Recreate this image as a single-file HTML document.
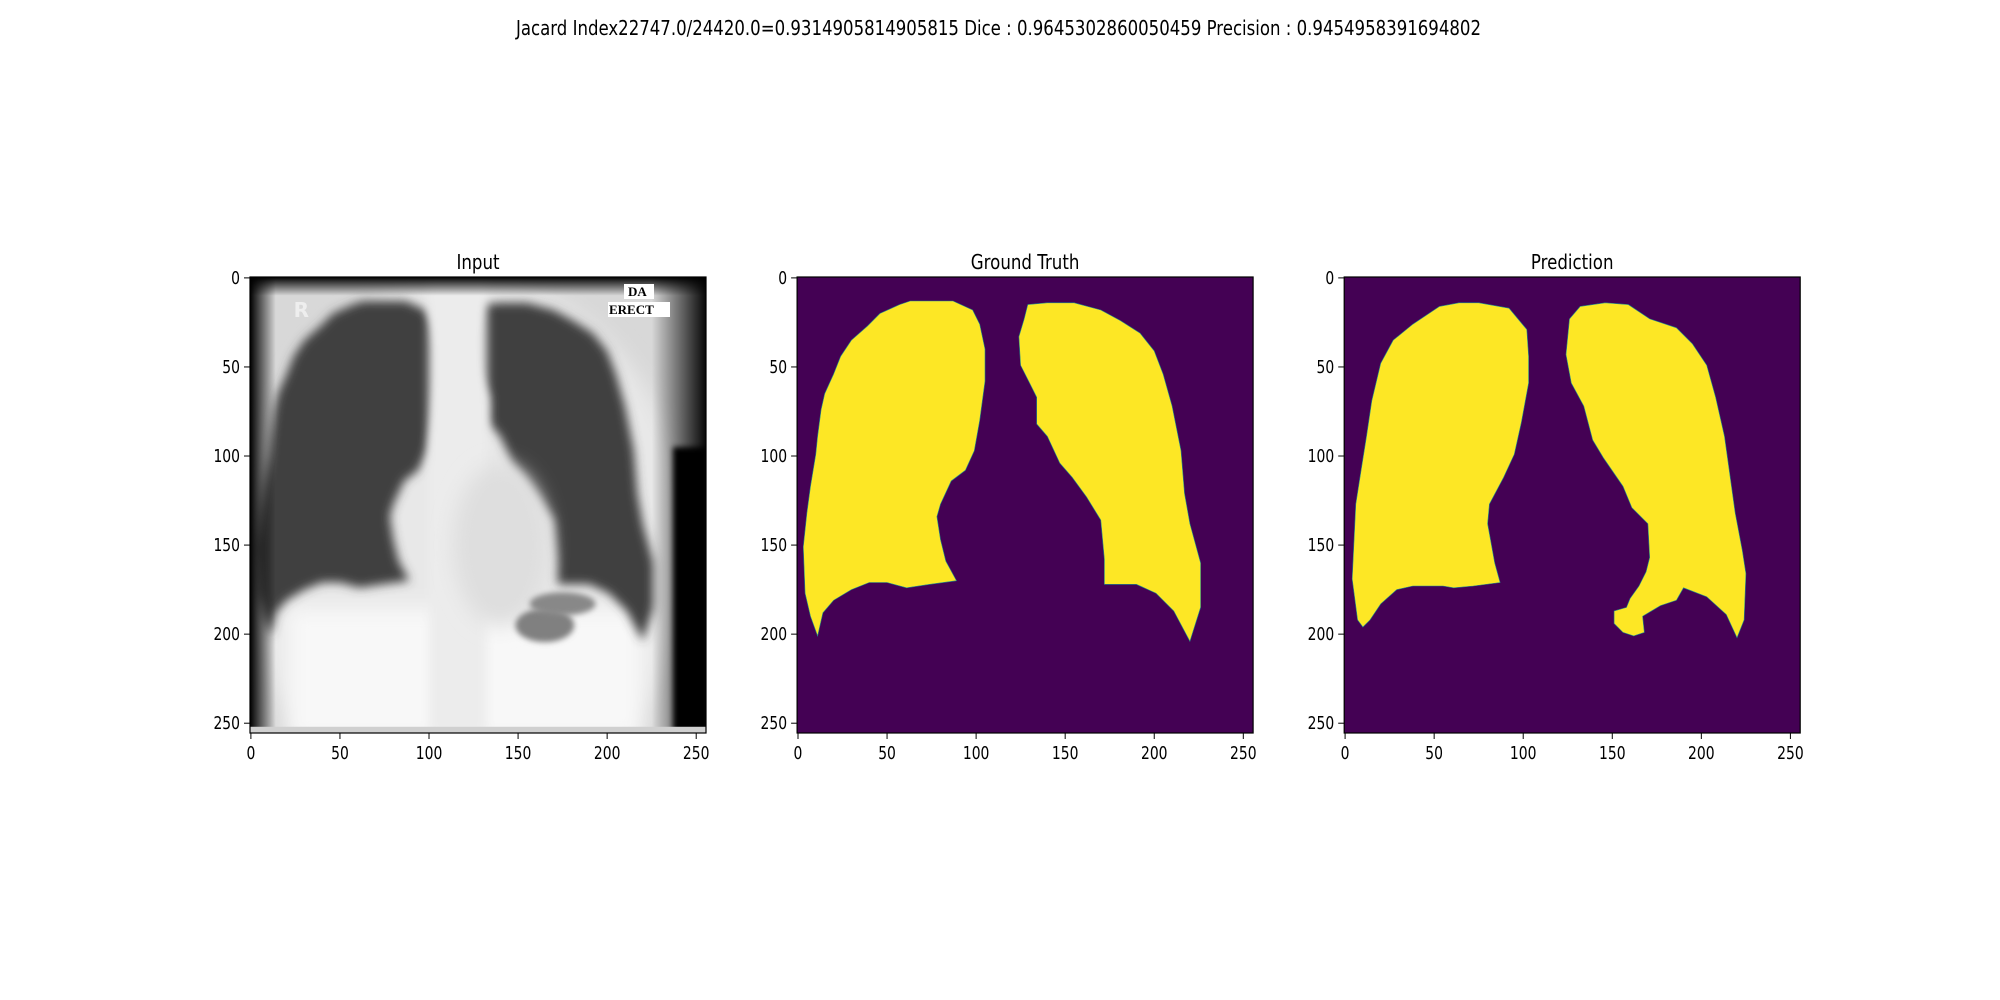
<!DOCTYPE html>
<html><head><meta charset="utf-8">
<style>
html,body{margin:0;padding:0;background:#fff;}
svg{display:block;font-family:"DejaVu Sans","Liberation Sans",sans-serif;}
</style></head>
<body>
<svg id="fig" width="2000" height="1000" viewBox="0 0 2000 1000" xmlns="http://www.w3.org/2000/svg">
<defs>
<filter id="blur3" x="-20%" y="-20%" width="140%" height="140%"><feGaussianBlur stdDeviation="3"/></filter>
<filter id="blur6" x="-30%" y="-30%" width="160%" height="160%"><feGaussianBlur stdDeviation="5"/></filter>
<filter id="blur10" x="-30%" y="-30%" width="160%" height="160%"><feGaussianBlur stdDeviation="10"/></filter>
<linearGradient id="rightEdge" x1="0" x2="1" y1="0" y2="0">
<stop offset="0" stop-color="#000" stop-opacity="0"/><stop offset="1" stop-color="#000" stop-opacity="1"/></linearGradient>
<linearGradient id="leftEdge" x1="0" x2="1" y1="0" y2="0">
<stop offset="0" stop-color="#000" stop-opacity="1"/><stop offset="1" stop-color="#000" stop-opacity="0"/></linearGradient>
<linearGradient id="topEdge" x1="0" x2="0" y1="0" y2="1">
<stop offset="0" stop-color="#000" stop-opacity="1"/><stop offset="1" stop-color="#000" stop-opacity="0"/></linearGradient>
</defs>
<text x="516" y="35" font-size="20.8" textLength="965" lengthAdjust="spacingAndGlyphs" fill="#000">Jacard Index22747.0/24420.0=0.9314905814905815 Dice : 0.9645302860050459 Precision : 0.9454958391694802</text>
<g id="axes"></g>
</svg>
<script>
// Lung outlines (data coords: x column, y row)
const gtLeftX=[75,87,98,102,105,105,102,99,94,86,80,78,80,83,89,74,61,50,40,30,20,14,11,7,4,3,5,7,10,11,13,15,20,24,30,39,46,57,63];
const gtLeftY=[13,13,18,26,40,58,80,97,108,114,127,134,147,159,170,172,174,171,171,175,181,188,201,190,177,151,132,117,99,89,74,65,54,44,35,27,20,15,13];
const gtRightX=[129,140,155,170,181,192,200,205,210,215,217,220,226,226,220,211,201,190,172,172,170,162,154,147,140,134,134,130,125,124,127];
const gtRightY=[15,14,14,18,24,31,41,54,72,97,121,138,160,185,204,187,177,172,172,158,136,123,112,104,89,82,67,59,49,33,23];
const prLeftX=[75,92,102,103,103,99,95,89,81,80,84,87,72,61,55,38,29,20,14,10,7,4,6,9,12,15,20,27,38,53,64];
const prLeftY=[14,17,29,44,59,81,99,112,127,138,160,171,173,174,173,173,175,183,192,196,192,169,127,108,89,69,48,35,26,16,14];
const prRightX=[126,132,146,159,171,186,195,203,208,213,219,223,225,224,220,214,203,190,186,177,167,168,162,156,151,151,158,160,165,169,171,170,161,156,145,139,134,127,124];
const prRightY=[23,16,14,15,23,28,37,49,67,89,132,153,166,192,202,189,179,174,181,184,190,199,201,199,194,187,185,180,173,165,157,138,129,117,101,91,72,59,43];
const tickValues=[0,50,100,150,200,250];
const panelTitles=["Input","Ground Truth","Prediction"];

const NS="http://www.w3.org/2000/svg";
const axesLeft=[250,797.1,1344.2];
const axTop=277, axSize=456, N=256, NARROW=0.8;
const sx=d=>(d+0.5)*axSize/N;
function mk(tag,attrs,parent){const e=document.createElementNS(NS,tag);for(const k in attrs)e.setAttribute(k,attrs[k]);parent.appendChild(e);return e;}
function pts(xs,ys){return xs.map((x,i)=>sx(x).toFixed(1)+","+sx(ys[i]).toFixed(1)).join(" ");}
function ntext(x,y,size,anchor,str,parent){return mk('text',{x:0,y:0,transform:`translate(${x},${y}) scale(${NARROW},1)`,'font-size':size,'text-anchor':anchor,fill:'#000'},parent);}
const root=document.getElementById('axes');

for(let p=0;p<3;p++){
  const L=axesLeft[p];
  const g=mk('g',{transform:`translate(${L},${axTop})`},root);
  
  
  const cp=mk('clipPath',{id:'cp'+p},g);
  mk('rect',{x:0,y:0,width:axSize,height:axSize},cp);
  const img=mk('g',{'clip-path':`url(#cp${p})`},g);
  
  
  if(p===0){
    mk('rect',{x:0,y:0,width:axSize,height:axSize,fill:'#d8d8d8'},img);
    mk('ellipse',{cx:sx(120),cy:sx(150),rx:sx(125),ry:sx(150),fill:'#e8e8e8',filter:'url(#blur10)'},img);
    mk('rect',{x:sx(20),y:sx(185),width:sx(200),height:sx(75),fill:'#f8f8f8',filter:'url(#blur10)'},img);
    mk('polygon',{points:pts(gtLeftX,gtLeftY),fill:'#404040',filter:'url(#blur6)'},img);
    mk('polygon',{points:pts(gtRightX,gtRightY),fill:'#404040',filter:'url(#blur6)'},img);
    mk('rect',{x:sx(100),y:sx(0),width:sx(32),height:sx(256),fill:'#ececec',filter:'url(#blur6)'},img);
    mk('ellipse',{cx:sx(140),cy:sx(150),rx:sx(26),ry:sx(45),fill:'#dedede',filter:'url(#blur10)'},img);
    mk('ellipse',{cx:sx(165),cy:sx(195),rx:sx(16),ry:sx(9),fill:'#808080',filter:'url(#blur3)'},img);
    mk('ellipse',{cx:sx(175),cy:sx(183),rx:sx(18),ry:sx(6),fill:'#888',filter:'url(#blur3)'},img);
    mk('rect',{x:sx(225),y:0,width:sx(31),height:axSize,fill:'url(#rightEdge)'},img);
    mk('rect',{x:sx(237),y:sx(95),width:sx(19),height:sx(160),fill:'#000',filter:'url(#blur3)'},img);
    mk('rect',{x:0,y:0,width:sx(14),height:axSize,fill:'url(#leftEdge)'},img);
    mk('rect',{x:0,y:0,width:axSize,height:sx(10),fill:'url(#topEdge)'},img);
    mk('rect',{x:0,y:sx(252),width:axSize,height:sx(4),fill:'#d0d0d0'},img);
    const r=mk('text',{x:sx(24),y:sx(22),'font-size':20,'font-weight':'bold',fill:'#eee'},img);
    r.textContent='R';
    
    
    mk('rect',{x:374,y:7,width:30,height:15,fill:'#fff'},img);
    const da=mk('text',{x:378,y:19,'font-size':13,'font-family':'Liberation Serif, serif','font-weight':'bold',fill:'#000'},img);
    da.textContent='DA';
    
    
    mk('rect',{x:358,y:25,width:62,height:15,fill:'#fff'},img);
    const er=mk('text',{x:359,y:37,'font-size':13,'font-family':'Liberation Serif, serif','font-weight':'bold',fill:'#000'},img);
    er.textContent='ERECT';
    
    
  } else {
    mk('rect',{x:0,y:0,width:axSize,height:axSize,fill:'#440154'},img);
    const LX=p===1?gtLeftX:prLeftX, LY=p===1?gtLeftY:prLeftY;
    const RX=p===1?gtRightX:prRightX, RY=p===1?gtRightY:prRightY;
    const a=mk('polygon',{points:pts(LX,LY),fill:'#fde725',stroke:'#21918c','stroke-width':0.6},img);
    
    
    const b=mk('polygon',{points:pts(RX,RY),fill:'#fde725',stroke:'#21918c','stroke-width':0.6},img);
    
    
  }
  mk('rect',{x:0,y:0,width:axSize,height:axSize,fill:'none',stroke:'#000','stroke-width':1.2},g);
  const t=ntext(axSize/2,-8,20.8,'middle','',g);
  t.textContent=panelTitles[p];
  
  
  tickValues.forEach(v=>{
    const pos=sx(v);
    mk('line',{x1:-6,x2:0,y1:pos,y2:pos,stroke:'#000','stroke-width':1},g);
    const yl=ntext(-10,pos+6,17.4,'end','',g);
    yl.textContent=v;
    
    
    mk('line',{x1:pos,x2:pos,y1:axSize,y2:axSize+6,stroke:'#000','stroke-width':1},g);
    const xl=ntext(pos,axSize+26,17.4,'middle','',g);
    xl.textContent=v;
    
    
  });
}
</script>
</body></html>
